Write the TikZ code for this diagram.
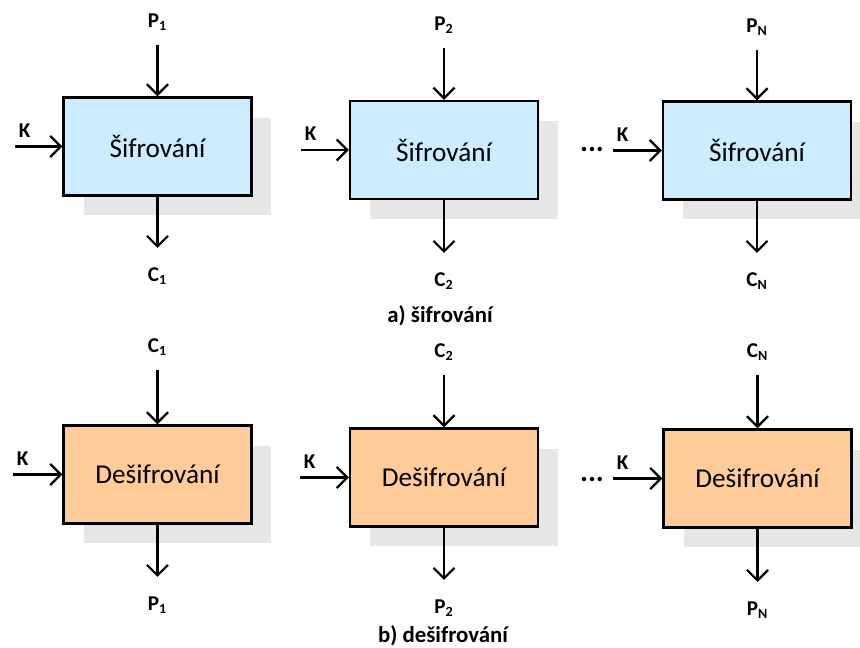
\documentclass[tikz,border=0pt]{standalone}
\usepackage{fontspec}
\setmainfont{Carlito}
\usetikzlibrary{arrows.meta}
\usetikzlibrary{positioning, shadows}
\definecolor{encfill}{HTML}{CCECFF}
\definecolor{decfill}{HTML}{FFCC99}
\definecolor{shadowgray}{HTML}{E6E6E6}

\begin{document}
\begin{tikzpicture}[x=0.02cm, y=-0.02cm,
    blok/.style={draw=black, line width=1.3pt, minimum width=3.76cm, minimum height=1.96cm,
      font=\fontsize{15.5}{18}\selectfont,
      drop shadow={shadow xshift=0.4cm, shadow yshift=-0.4cm, fill=shadowgray, opacity=1}},
    sifr/.style={blok, fill=encfill},
    desifr/.style={blok, fill=decfill},
    popis/.style={font=\fontsize{12}{14}\selectfont\bfseries, inner sep=1pt},
    tecky/.style={font=\fontsize{17}{18}\selectfont\bfseries, inner sep=1pt},
    titulek/.style={font=\fontsize{13}{15}\selectfont\bfseries, inner sep=1pt},
    sipka/.style={line width=1.3pt, arrows=-{Straight Barb[length=6pt, width=12pt]}}]
          \useasboundingbox (0,0) rectangle (860,648);

          % a) sifrovani
          \node [sifr] (b1) at (157.5,146.5) {Šifrování}; % Draws a box
          \node [sifr] (b2) at (444,150) {Šifrování}; % Draws a box
          \node [sifr] (b3) at (757,150.5) {Šifrování}; % Draws a box

          \coordinate (p1) at (157.5,45);
          \coordinate (p2) at (444,48);
          \coordinate (p3) at (757,50);
          \coordinate (c1) at (157.5,248);
          \coordinate (c2) at (444,253);
          \coordinate (c3) at (757,253);
          \coordinate (k1) at (15,146.5);
          \coordinate (k2) at (301,150);
          \coordinate (k3) at (613,150.5);

          \node [popis, above=7pt of p1] (p1lab) {P\textsubscript{1}};
          \node [popis, above=7pt of p2] (p2lab) {P\textsubscript{2}};
          \node [popis, above=7pt of p3] (p3lab) {P\textsubscript{N}};
          \node [popis, below=10pt of c1] (c1lab) {C\textsubscript{1}};
          \node [popis, below=10pt of c2] (c2lab) {C\textsubscript{2}};
          \node [popis, below=10pt of c3] (c3lab) {C\textsubscript{N}};
          \node [popis, above right=4pt and 1pt of k1] (k1lab) {K};
          \node [popis, above right=4pt and 1pt of k2] (k2lab) {K};
          \node [popis, above right=4pt and 1pt of k3] (k3lab) {K};
          \node [tecky] (dots1) at (592,150) {...};

          \draw [sipka] (p1) -- (b1.north);
          \draw [sipka] (p2) -- (b2.north);
          \draw [sipka] (p3) -- (b3.north);
          \draw [sipka] (b1.south) -- (c1);
          \draw [sipka] (b2.south) -- (c2);
          \draw [sipka] (b3.south) -- (c3);
          \draw [sipka] (k1) -- (b1.west);
          \draw [sipka] (k2) -- (b2.west);
          \draw [sipka] (k3) -- (b3.west);

          \node [titulek] (capa) at (440,316) {a) šifrování};

          % b) desifrovani
          \node [desifr] (d1) at (157.5,474.5) {Dešifrování}; % Draws a box
          \node [desifr] (d2) at (444,477.5) {Dešifrování}; % Draws a box
          \node [desifr] (d3) at (757.5,478.5) {Dešifrování}; % Draws a box

          \coordinate (dc1) at (157.5,370);
          \coordinate (dc2) at (444,375);
          \coordinate (dc3) at (757.5,375);
          \coordinate (dp1) at (157.5,577);
          \coordinate (dp2) at (444,580);
          \coordinate (dp3) at (757.5,582);
          \coordinate (dk1) at (13,474.5);
          \coordinate (dk2) at (300,477.5);
          \coordinate (dk3) at (613,478.5);

          \node [popis, above=7pt of dc1] (dc1lab) {C\textsubscript{1}};
          \node [popis, above=7pt of dc2] (dc2lab) {C\textsubscript{2}};
          \node [popis, above=7pt of dc3] (dc3lab) {C\textsubscript{N}};
          \node [popis, below=10pt of dp1] (dp1lab) {P\textsubscript{1}};
          \node [popis, below=10pt of dp2] (dp2lab) {P\textsubscript{2}};
          \node [popis, below=10pt of dp3] (dp3lab) {P\textsubscript{N}};
          \node [popis, above right=4pt and 1pt of dk1] (dk1lab) {K};
          \node [popis, above right=4pt and 1pt of dk2] (dk2lab) {K};
          \node [popis, above right=4pt and 1pt of dk3] (dk3lab) {K};
          \node [tecky] (dots2) at (592,480) {...};

          \draw [sipka] (dc1) -- (d1.north);
          \draw [sipka] (dc2) -- (d2.north);
          \draw [sipka] (dc3) -- (d3.north);
          \draw [sipka] (d1.south) -- (dp1);
          \draw [sipka] (d2.south) -- (dp2);
          \draw [sipka] (d3.south) -- (dp3);
          \draw [sipka] (dk1) -- (d1.west);
          \draw [sipka] (dk2) -- (d2.west);
          \draw [sipka] (dk3) -- (d3.west);

          \node [titulek] (capb) at (443,636) {b) dešifrování};
        \end{tikzpicture}
\end{document}
